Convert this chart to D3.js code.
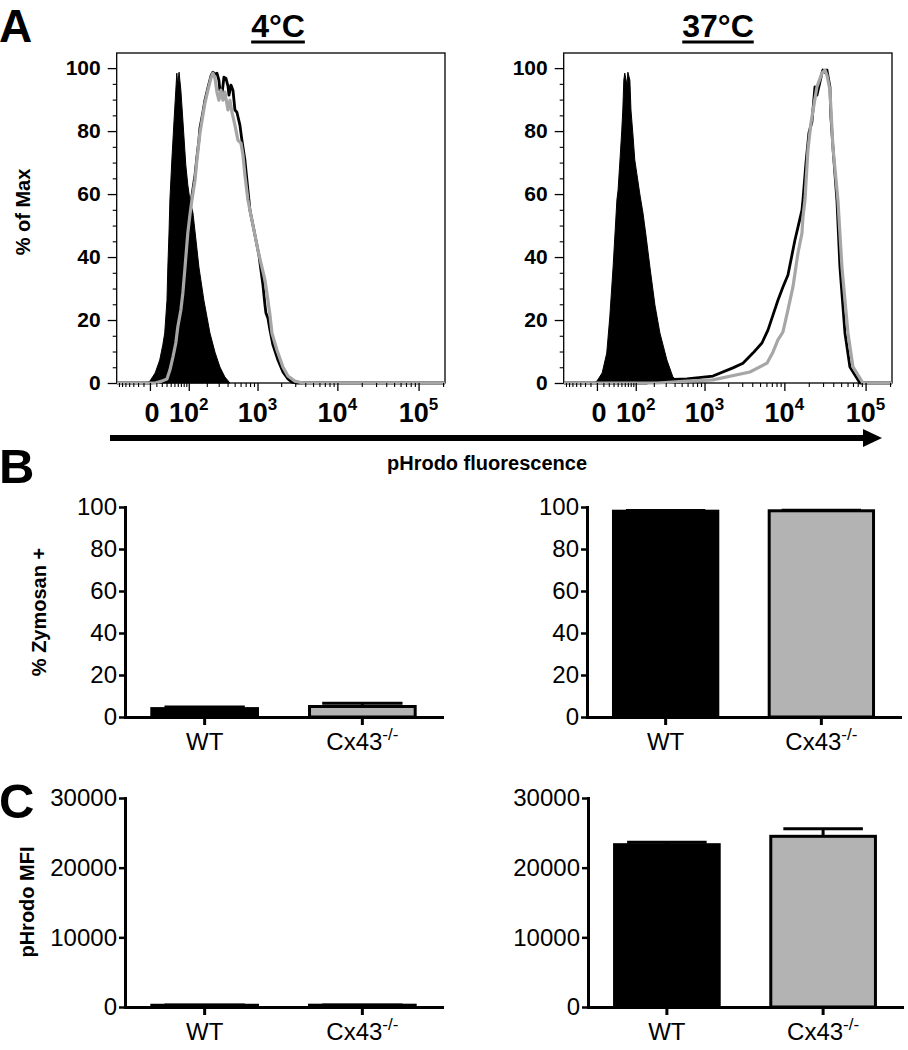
<!DOCTYPE html>
<html><head><meta charset="utf-8">
<script src="https://cdn.jsdelivr.net/npm/d3@7"></script>
<style>
body{margin:0;background:#fff}
svg{display:block}
text{font-family:"Liberation Sans",Arial,Helvetica,sans-serif;fill:#000}
</style></head><body>
<svg id="c" width="908" height="1050"></svg>
<script>
// ---------------- DATA ----------------
// Flow histograms: [pHrodo fluorescence, % of Max]
const histXTicks = [0, 100, 1000, 10000, 100000];
const histXTickExp = ["", "2", "3", "4", "5"];
const histYTicks = [0, 20, 40, 60, 80, 100];
const tempLabels = ["4°C", "37°C"];

const hist4C_control = [[-4,0],[0,0.6],[8,3.2],[16,7.3],[22,12.1],[26,15.9],[31,26.3],[33,36.8],[36,48.6],[38,58.1],[43,70.8],[49,83.5],[54,93],[57,98.4],[60,94.6],[64,98.7],[70,93],[77,83.5],[88,69.2],[96,62.9],[105,58.1],[119,54],[134,45.4],[150,36.8],[180,26.3],[223,15.9],[265,9.8],[312,5.1],[367,1.9],[431,0]];
const hist4C_WT = [[-78,0],[0,0],[16,0.3],[29,1.6],[38,4.4],[46,8.6],[54,13.3],[60,18.4],[70,24.1],[77,29.5],[85,37.5],[92,44.4],[96,48.6],[105,54.3],[114,59.4],[129,66],[139,71.7],[150,77.1],[156,81],[174,86],[187,89.8],[208,93.7],[231,97.5],[247,98.7],[265,98.1],[283,98.4],[302,96.2],[312,93],[333,91.4],[356,97.1],[379,96.8],[405,94.3],[418,91.4],[445,94.6],[474,93],[504,86.7],[536,86],[588,81.9],[625,77.1],[685,70.8],[750,61.3],[797,54.9],[872,50.2],[953,45.4],[1043,40.6],[1106,35.9],[1174,31.1],[1245,24.8],[1282,22.2],[1359,20.6],[1442,16.8],[1573,12.1],[1820,7.3],[2105,3.5],[2432,1.3],[2729,0.3],[3153,0],[211000,0]];
const hist4C_KO = [[-78,0],[8,0],[20,0.6],[31,1.3],[38,4.1],[46,8.3],[54,12.7],[60,17.8],[70,23.2],[77,28.6],[85,36.8],[92,43.8],[96,47.6],[105,53.3],[114,58.1],[129,64.4],[139,70.8],[150,76.5],[156,79.4],[174,85.1],[187,88.9],[208,93],[231,96.8],[247,98.4],[265,96.8],[283,92.4],[302,89.8],[323,93],[345,89.8],[367,92.4],[405,86.7],[431,89.8],[459,86],[504,81.9],[553,77.1],[607,76.2],[645,72.4],[685,66],[750,58.1],[846,51.7],[926,47],[1012,42.2],[1139,36.8],[1245,32.7],[1359,26.3],[1442,21.6],[1528,15.9],[1768,10.5],[2105,5.1],[2432,2.2],[2976,0.6],[3745,0],[211000,0]];

const hist37C_control = [[-4,0],[0,0.6],[8,3.2],[16,9.5],[22,21],[29,36.8],[38,58.1],[41,61.3],[46,70.8],[51,80.3],[54,86.7],[57,96.2],[60,98.4],[67,94.6],[70,98.7],[77,96.2],[81,86.7],[88,79.4],[96,70.8],[119,59.7],[134,54],[150,47],[174,36.8],[208,24.8],[247,15.9],[312,7.3],[379,1.9],[474,0]];
const hist37C_WT = [[-78,0],[156,0],[247,1],[588,1.3],[1282,2.2],[2295,4.8],[3063,6.3],[4080,9.5],[5280,12.7],[6265,16.8],[7025,20.6],[8330,26.3],[9605,30.5],[11075,34.3],[13515,45.4],[14720,49.5],[16485,54.9],[16955,58.1],[18460,69.8],[20095,79.4],[21875,82.9],[23820,94],[25200,91.4],[29050,98.4],[29880,99.4],[31635,98.7],[33460,99.4],[36435,94],[37470,84.4],[39670,74.9],[44420,58.1],[48380,36.8],[55750,15.9],[64200,5.1],[85250,0],[211000,0]];
const hist37C_KO = [[-78,0],[223,0],[588,0.6],[1282,1],[3745,3.5],[6090,6.3],[7225,9.8],[8330,13.7],[9605,16.2],[11075,23.2],[12765,30.5],[14720,41.3],[16485,47.6],[16955,52.7],[17945,58.1],[19530,74],[21255,82.5],[25200,94],[29050,98.4],[31635,99.4],[33460,97.8],[36435,93],[39670,74.9],[45700,58.1],[51200,36.8],[60700,15.9],[69950,5.1],[92850,0],[211000,0]];

// Bar charts
const groups = ["WT", "Cx43"];
const groupSup = ["", "-/-"];
const zymosan4C = [4.0, 5.0];
const zymosan4C_err = [0.8, 1.5];
const zymosan37C = [98.0, 98.2];
const zymosan37C_err = [0.3, 0.3];
const mfi4C = [250, 260];
const mfi4C_err = [20, 25];
const mfi37C = [23300, 24500];
const mfi37C_err = [350, 1100];
const pctTicks = [0, 20, 40, 60, 80, 100];
const mfiTicks = [0, 10000, 20000, 30000];

// ---------------- DRAW ----------------
const svg = d3.select("#c");
const BAR_COLORS = ["#000000", "#b3b3b3"];
const LINE_GRAY = "#a6a6a6";

function histPanel(ox, ctrl, wt, ko, title, titleX, id) {
  const g = svg.append("g");
  const x = d3.scaleSymlog().constant(50).domain([-78, 211200]).range([116.7 + ox, 445 + ox]);
  const y = d3.scaleLinear().domain([0, 104.8]).range([383, 53]);
  const [xl, xr] = x.range();

  svg.append("clipPath").attr("id", id).append("rect")
    .attr("x", xl).attr("y", 53).attr("width", xr - xl).attr("height", 332);

  g.append("rect").attr("x", xl).attr("y", 53).attr("width", xr - xl).attr("height", 330)
    .attr("fill", "none").attr("stroke", "#000").attr("stroke-width", 1.3);

  const cg = g.append("g").attr("clip-path", `url(#${id})`);
  cg.append("path").datum(ctrl)
    .attr("d", d3.area().x(d => x(d[0])).y0(y(0)).y1(d => y(d[1])))
    .attr("fill", "#000").attr("stroke", "#000").attr("stroke-width", 1);
  const line = d3.line().x(d => x(d[0])).y(d => y(d[1]));
  cg.append("path").datum(wt).attr("d", line)
    .attr("fill", "none").attr("stroke", "#000").attr("stroke-width", 2.8).attr("stroke-linejoin", "round");
  cg.append("path").datum(ko).attr("d", line)
    .attr("fill", "none").attr("stroke", LINE_GRAY).attr("stroke-width", 3.2).attr("stroke-linejoin", "round");

  // y axis
  const ya = g.append("g").attr("transform", `translate(${xl},0)`)
    .call(d3.axisLeft(y).tickValues(histYTicks).tickSize(9).tickPadding(7).tickSizeOuter(0));
  ya.select(".domain").remove();
  ya.selectAll("line").attr("stroke-width", 1.3);
  ya.selectAll("text").attr("font-size", 21).attr("font-weight", "bold")
    .attr("font-family", '"Liberation Sans",Arial,sans-serif');
  const yminor = d3.range(5, 105, 5).filter(v => v % 20 !== 0);
  const ym = g.append("g").attr("transform", `translate(${xl},0)`)
    .call(d3.axisLeft(y).tickValues(yminor).tickSize(4).tickFormat(""));
  ym.select(".domain").remove();
  ym.selectAll("line").attr("stroke-width", 1.1);

  // x axis
  const xa = g.append("g").attr("transform", `translate(0,383)`)
    .call(d3.axisBottom(x).tickValues(histXTicks).tickSize(8).tickFormat(""));
  xa.select(".domain").remove();
  xa.selectAll("line").attr("stroke-width", 1.3);
  const xminor = [-70, -60, -50, -40, -30, -20, -10, 10];
  [10, 100, 1000, 10000, 100000].forEach(dec => {
    for (let m = 2; m <= 9; m++) xminor.push(m * dec);
  });
  const xm = g.append("g").attr("transform", `translate(0,383)`)
    .call(d3.axisBottom(x).tickValues(xminor.filter(v => v < 211200)).tickSize(4).tickFormat(""));
  xm.select(".domain").remove();
  xm.selectAll("line").attr("stroke-width", 1.1);

  histXTicks.forEach((v, i) => {
    const t = g.append("text").attr("x", x(v) + (v === 0 ? 2 : 0)).attr("y", 422)
      .attr("text-anchor", "middle").attr("font-size", 27).attr("font-weight", "bold");
    if (histXTickExp[i] === "") t.text("0");
    else {
      t.append("tspan").text("10");
      t.append("tspan").attr("font-size", 17).attr("dy", -12).text(histXTickExp[i]);
    }
  });

  // title
  const tt = g.append("text").attr("x", titleX).attr("y", 37).attr("text-anchor", "middle")
    .attr("font-size", 32).attr("font-weight", "bold").text(title);
  const bb = tt.node().getBBox();
  g.append("line").attr("x1", bb.x).attr("x2", bb.x + bb.width).attr("y1", 42).attr("y2", 42)
    .attr("stroke", "#000").attr("stroke-width", 3);
}

histPanel(0, hist4C_control, hist4C_WT, hist4C_KO, tempLabels[0], 278, "clipL");
histPanel(447, hist37C_control, hist37C_WT, hist37C_KO, tempLabels[1], 718, "clipR");

// "% of Max"
svg.append("text").attr("transform", "translate(23,212) rotate(-90)").attr("text-anchor", "middle")
  .attr("dy", "0.35em").attr("font-size", 20).attr("font-weight", "bold").text("% of Max");

// arrow
svg.append("line").attr("x1", 110).attr("x2", 866).attr("y1", 438).attr("y2", 438)
  .attr("stroke", "#000").attr("stroke-width", 6);
svg.append("path").attr("d", d3.line()([[863, 429], [882, 438], [863, 447]]) + "Z").attr("fill", "#000");
svg.append("text").attr("x", 487).attr("y", 470).attr("text-anchor", "middle")
  .attr("font-size", 20).attr("font-weight", "bold").text("pHrodo fluorescence");

// panel letters
[["A", 42, 46], ["B", 483, 49], ["C", 818, 49]].forEach(([l, yy, fs]) => {
  svg.append("text").attr("x", -1).attr("y", yy).attr("font-size", fs).attr("font-weight", "bold").text(l);
});

function barPanel(axisX, right, yBottom, yTop, dmax, ticks, vals, errs) {
  const g = svg.append("g");
  const x = d3.scaleBand().domain(groups).range([axisX, right]).paddingInner(0.33).paddingOuter(0.17);
  const y = d3.scaleLinear().domain([0, dmax]).range([yBottom, yTop]);
  const bw = x.bandwidth();
  groups.forEach((gr, i) => {
    const cx = x(gr) + bw / 2;
    // error bar (upper only)
    g.append("line").attr("x1", cx).attr("x2", cx).attr("y1", y(vals[i])).attr("y2", y(vals[i] + errs[i]))
      .attr("stroke", "#000").attr("stroke-width", 3);
    g.append("line").attr("x1", cx - bw * 0.38).attr("x2", cx + bw * 0.38)
      .attr("y1", y(vals[i] + errs[i])).attr("y2", y(vals[i] + errs[i]))
      .attr("stroke", "#000").attr("stroke-width", 3);
    g.append("rect").attr("x", x(gr)).attr("y", y(vals[i])).attr("width", bw)
      .attr("height", y(0) - y(vals[i])).attr("fill", BAR_COLORS[i])
      .attr("stroke", "#000").attr("stroke-width", 3);
  });
  const ya = g.append("g").attr("transform", `translate(${axisX},0)`)
    .call(d3.axisLeft(y).tickValues(ticks).tickSize(6).tickPadding(2).tickSizeOuter(0).tickFormat(d3.format("d")));
  ya.select(".domain").attr("stroke-width", 3).attr("stroke-linecap", "square");
  ya.selectAll("line").attr("stroke-width", 2.5);
  ya.selectAll("text").attr("font-size", 24).attr("font-family", '"Liberation Sans",Arial,sans-serif');
  const xa = g.append("g").attr("transform", `translate(0,${yBottom})`)
    .call(d3.axisBottom(x).tickSize(8).tickSizeOuter(0).tickFormat(""));
  xa.select(".domain").attr("stroke-width", 3).attr("stroke-linecap", "square");
  xa.selectAll("line").attr("stroke-width", 3);
  groups.forEach((gr, i) => {
    const t = g.append("text").attr("x", x(gr) + bw / 2).attr("y", yBottom + 33)
      .attr("text-anchor", "middle").attr("font-size", 24);
    t.append("tspan").text(gr);
    if (groupSup[i]) t.append("tspan").attr("font-size", 17).attr("dy", -10).text(groupSup[i]);
  });
}

barPanel(125, 442, 717, 507, 100, pctTicks, zymosan4C, zymosan4C_err);
barPanel(587, 900, 717, 507, 100, pctTicks, zymosan37C, zymosan37C_err);
barPanel(125, 442, 1007, 798, 30000, mfiTicks, mfi4C, mfi4C_err);
barPanel(588, 902, 1007, 798, 30000, mfiTicks, mfi37C, mfi37C_err);

svg.append("text").attr("transform", "translate(39,612) rotate(-90)").attr("text-anchor", "middle")
  .attr("dy", "0.35em").attr("font-size", 20).attr("font-weight", "bold").text("% Zymosan +");
svg.append("text").attr("transform", "translate(27,902) rotate(-90)").attr("text-anchor", "middle")
  .attr("dy", "0.35em").attr("font-size", 20).attr("font-weight", "bold").text("pHrodo MFI");
</script>
</body></html>
